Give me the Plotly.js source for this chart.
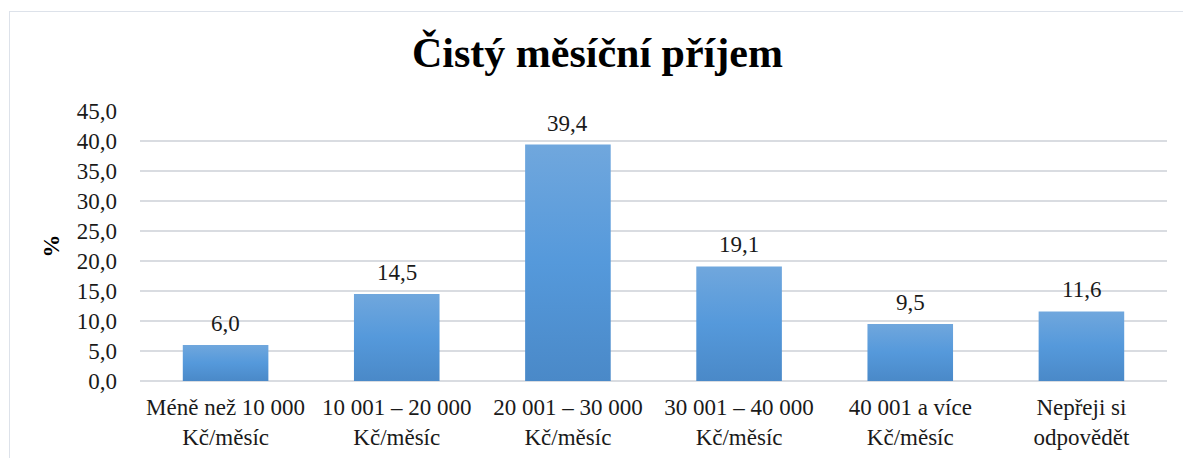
<!DOCTYPE html>
<html>
<head>
<meta charset="utf-8">
<script src="https://cdn.plot.ly/plotly-3.0.1.min.js"></script>
</head>
<body style="margin:0;background:#fff">
<div id="frame" style="position:absolute;left:9px;top:11px;width:1200px;height:480px;border:1.5px solid #dde2ea;box-sizing:border-box;"></div>
<div id="chart" style="position:absolute;left:0;top:0;width:1183px;height:458px;"></div>
<script>
const categories = [
  "Méně než 10 000<br>Kč/měsíc",
  "10 001 – 20 000<br>Kč/měsíc",
  "20 001 – 30 000<br>Kč/měsíc",
  "30 001 – 40 000<br>Kč/měsíc",
  "40 001 a více<br>Kč/měsíc",
  "Nepřeji si<br>odpovědět"
];
const values = [6.0, 14.5, 39.4, 19.1, 9.5, 11.6];
const valueLabels = values.map(v => v.toFixed(1).replace('.', ','));
const yTicks = [0, 5, 10, 15, 20, 25, 30, 35, 40, 45];
const yTickLabels = yTicks.map(v => v.toFixed(1).replace('.', ','));

const fontFam = 'serif';
const trace = {
  type: 'bar',
  x: categories,
  y: values,
  cliponaxis: false,
  marker: {color: '#5b9bd5', line: {width: 0}},
  hoverinfo: 'none'
};
const annotations = categories.map((c, i) => ({
  x: c, y: values[i], xref: 'x', yref: 'y',
  text: valueLabels[i], showarrow: false,
  yanchor: 'bottom', yshift: 7,
  font: {family: fontFam, size: 23, color: '#1a1a1a'}
}));
const layout = {
  width: 1183, height: 458,
  margin: {l: 140, r: 16, t: 111, b: 77},
  font: {family: fontFam, color: '#1a1a1a'},
  paper_bgcolor: 'rgba(0,0,0,0)',
  plot_bgcolor: 'rgba(0,0,0,0)',
  bargap: 0.5,
  showlegend: false,
  annotations: annotations,
  title: {
    text: '<b>Čistý měsíční příjem</b>',
    font: {family: fontFam, size: 42, color: '#000'},
    x: 0.505, xanchor: 'center', xref: 'container',
    y: 0.885, yanchor: 'middle', yref: 'container'
  },
  xaxis: {
    type: 'category',
    tickfont: {family: fontFam, size: 23, color: '#1a1a1a'},
    showline: false, showgrid: false, ticks: '', automargin: false,
    ticklabelstandoff: 10
  },
  yaxis: {
    range: [0, 45],
    tickvals: yTicks,
    ticktext: yTickLabels,
    tickfont: {family: fontFam, size: 23, color: '#1a1a1a'},
    gridcolor: '#d9dce1', gridwidth: 1.5,
    zeroline: true, zerolinecolor: '#d9dce1', zerolinewidth: 1.5,
    showline: false, ticks: '', automargin: false,
    ticklabelstandoff: 22,
    title: {text: '<b>%</b>', font: {family: fontFam, size: 23, color: '#000'}, standoff: 10}
  }
};
Plotly.newPlot('chart', [trace], layout, {displayModeBar: false}).then(gd => {
  const svg = gd.querySelector('svg.main-svg');
  const ns = 'http://www.w3.org/2000/svg';
  let defs = svg.querySelector('defs');
  if (!defs) { defs = document.createElementNS(ns, 'defs'); svg.insertBefore(defs, svg.firstChild); }
  const grad = document.createElementNS(ns, 'linearGradient');
  grad.setAttribute('id', 'barGrad');
  grad.setAttribute('x1', '0'); grad.setAttribute('y1', '0');
  grad.setAttribute('x2', '0'); grad.setAttribute('y2', '1');
  [['0', '#70a7dd'], ['0.5', '#5599db'], ['1', '#4a89c8']].forEach(([o, c]) => {
    const s = document.createElementNS(ns, 'stop');
    s.setAttribute('offset', o); s.setAttribute('stop-color', c);
    grad.appendChild(s);
  });
  defs.appendChild(grad);
  gd.querySelectorAll('.trace.bars .point path').forEach(p => {
    p.style.fill = 'url(#barGrad)';
  });
});
</script>
</body>
</html>
